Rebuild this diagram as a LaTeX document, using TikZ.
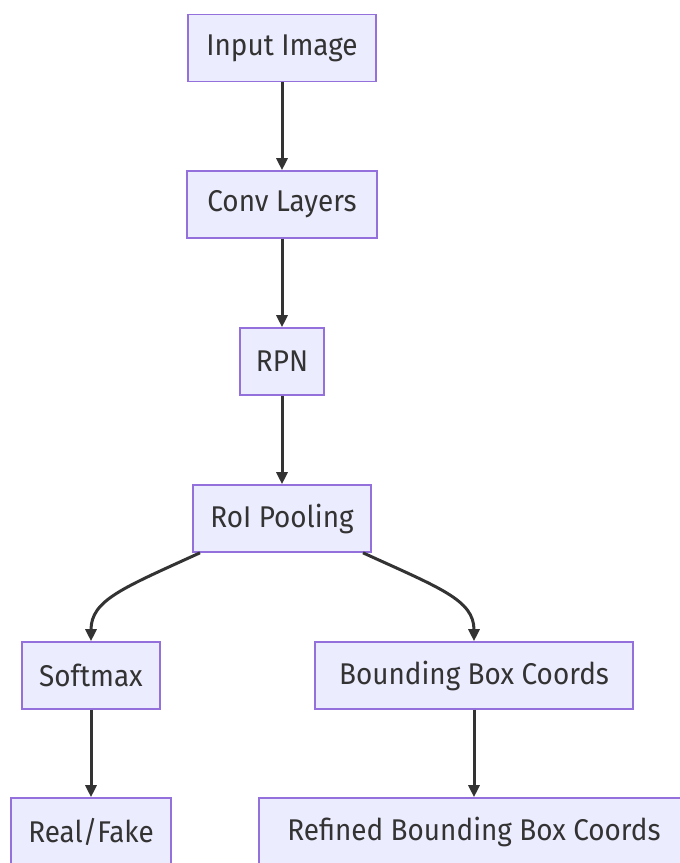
\documentclass[tikz,border=0pt]{standalone}
\usepackage{fontspec}
\setmainfont[FakeStretch=0.93]{Fira Sans}
\usetikzlibrary{arrows.meta,calc}
\definecolor{boxfill}{HTML}{ECECFF}
\definecolor{boxline}{HTML}{9370DB}
\definecolor{ink}{HTML}{333333}
\tikzset{
  flowbox/.style={draw=boxline, fill=boxfill, line width=1.6pt, minimum height=67pt,
    inner sep=0pt, text=ink, font=\fontsize{30}{34}\selectfont},
  flowarrow/.style={draw=ink, line width=3pt, -{Triangle[length=12pt,width=11pt]}}
}
\begin{document}
\begin{tikzpicture}[x=1pt,y=-1pt]
\useasboundingbox (0,0) rectangle (680,863);
\fill[white] (0,0) rectangle (680,863);
\node[flowbox, minimum width=188pt] (in) at (282,48) {Input Image};
\node[flowbox, minimum width=190pt] (conv) at (282,204.5) {Conv Layers};
\node[flowbox, minimum width=84pt] (rpn) at (282,361.5) {RPN};
\node[flowbox, minimum width=178pt] (roi) at (282,518.5) {RoI Pooling};
\node[flowbox, minimum width=138pt] (soft) at (91,675.5) {Softmax};
\node[flowbox, minimum width=318pt] (bbc) at (474,675.5) {Bounding Box Coords};
\node[flowbox, minimum width=160pt] (rf) at (91,831.5) {Real/Fake};
\node[flowbox, minimum width=430pt] (ref) at (474,831.5) {Refined Bounding Box Coords};
\draw[flowarrow] (in) -- (conv);
\draw[flowarrow] (conv) -- (rpn);
\draw[flowarrow] (rpn) -- (roi);
\draw[flowarrow] ([xshift=-82pt]roi.south) .. controls (123,588) and (91,600) .. (soft.north);
\draw[flowarrow] ([xshift=81pt]roi.south) .. controls (440,588) and (474,600) .. (bbc.north);
\draw[flowarrow] (soft) -- (rf);
\draw[flowarrow] (bbc) -- (ref);
\end{tikzpicture}
\end{document}
